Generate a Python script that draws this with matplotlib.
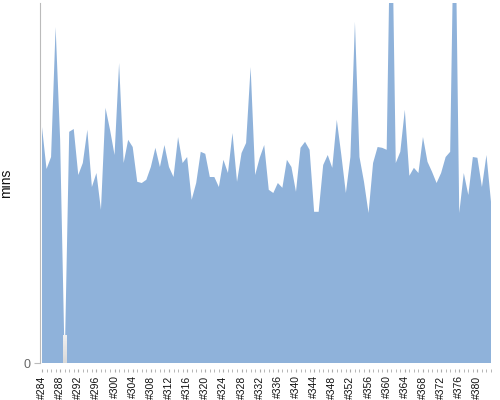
from matplotlib import pyplot as plt
import numpy as np

# build numbers #284 .. #383
builds = ["#%d" % n for n in range(284, 384)]
mins = [59.0, 48.5, 51.5, 84.0, 55.8, 0.0, 57.8, 58.5, 47.0, 50.0,
        58.3, 44.0, 47.5, 38.3, 63.8, 58.3, 52.0, 75.0, 50.0, 55.8,
        54.0, 45.3, 45.0, 45.8, 49.0, 53.8, 49.0, 54.5, 49.0, 46.5,
        56.5, 50.0, 51.5, 40.8, 45.0, 52.8, 52.3, 46.5, 46.5, 44.0,
        50.8, 47.5, 57.5, 45.3, 52.5, 55.0, 74.0, 47.0, 51.3, 54.5,
        43.3, 42.5, 45.0, 43.8, 50.8, 49.0, 42.8, 53.8, 55.3, 53.3,
        37.8, 37.8, 49.5, 52.0, 48.8, 60.8, 52.0, 42.5, 51.5, 85.3,
        51.5, 45.3, 37.5, 50.0, 54.0, 53.8, 53.3, 125.3, 50.0, 52.8,
        63.3, 46.8, 48.8, 47.5, 56.5, 50.3, 47.8, 45.0, 47.5, 51.5,
        52.8, 125.3, 37.5, 47.5, 42.0, 51.5, 51.3, 44.0, 52.0, 40.3]
missing = ["#289"]

x = np.arange(len(builds))
y = np.array(mins)

fig = plt.figure(figsize=(5, 4), dpi=100)
ax = fig.add_axes([0.08, 0.0925, 0.902, 0.9])
ax.spines["bottom"].set_position(("outward", 4))
ax.spines["bottom"].set_visible(False)
ax.spines["top"].set_visible(False)
ax.spines["right"].set_visible(False)
ax.spines["left"].set_color("#bbbbbb")

ax.fill_between(x, 0, y, color="#8fb2da", linewidth=0, zorder=2)

# grey marker for missing build
grad = np.linspace(1, 0, 50).reshape(-1, 1)
for b in missing:
    i = builds.index(b)
    ax.imshow(grad, extent=[i - 0.38, i + 0.38, 0, 7], cmap="Greys", vmin=-1, vmax=7,
              aspect="auto", origin="lower", zorder=3)

ax.set_xlim(-0.44, len(builds) - 1)
ax.set_ylim(0, 90)

ax.set_xticks(x[::4])
ax.set_xticklabels(builds[::4], rotation=90, fontsize=7.5, family="Liberation Sans", color="#111111")
ax.set_xticks(x, minor=True)
ax.tick_params(axis="x", which="both", length=2, color="#aaaaaa", pad=3)

ax.set_yticks([0])
ax.set_yticklabels(["0"], fontsize=9, family="Liberation Sans", color="#666666")
ax.tick_params(axis="y", length=4, color="#bbbbbb", pad=3)
ax.set_ylabel("mins", fontsize=10, family="Liberation Sans", color="#111111")
ax.yaxis.set_label_coords(-0.06, 0.5)

plt.savefig("out.png")
